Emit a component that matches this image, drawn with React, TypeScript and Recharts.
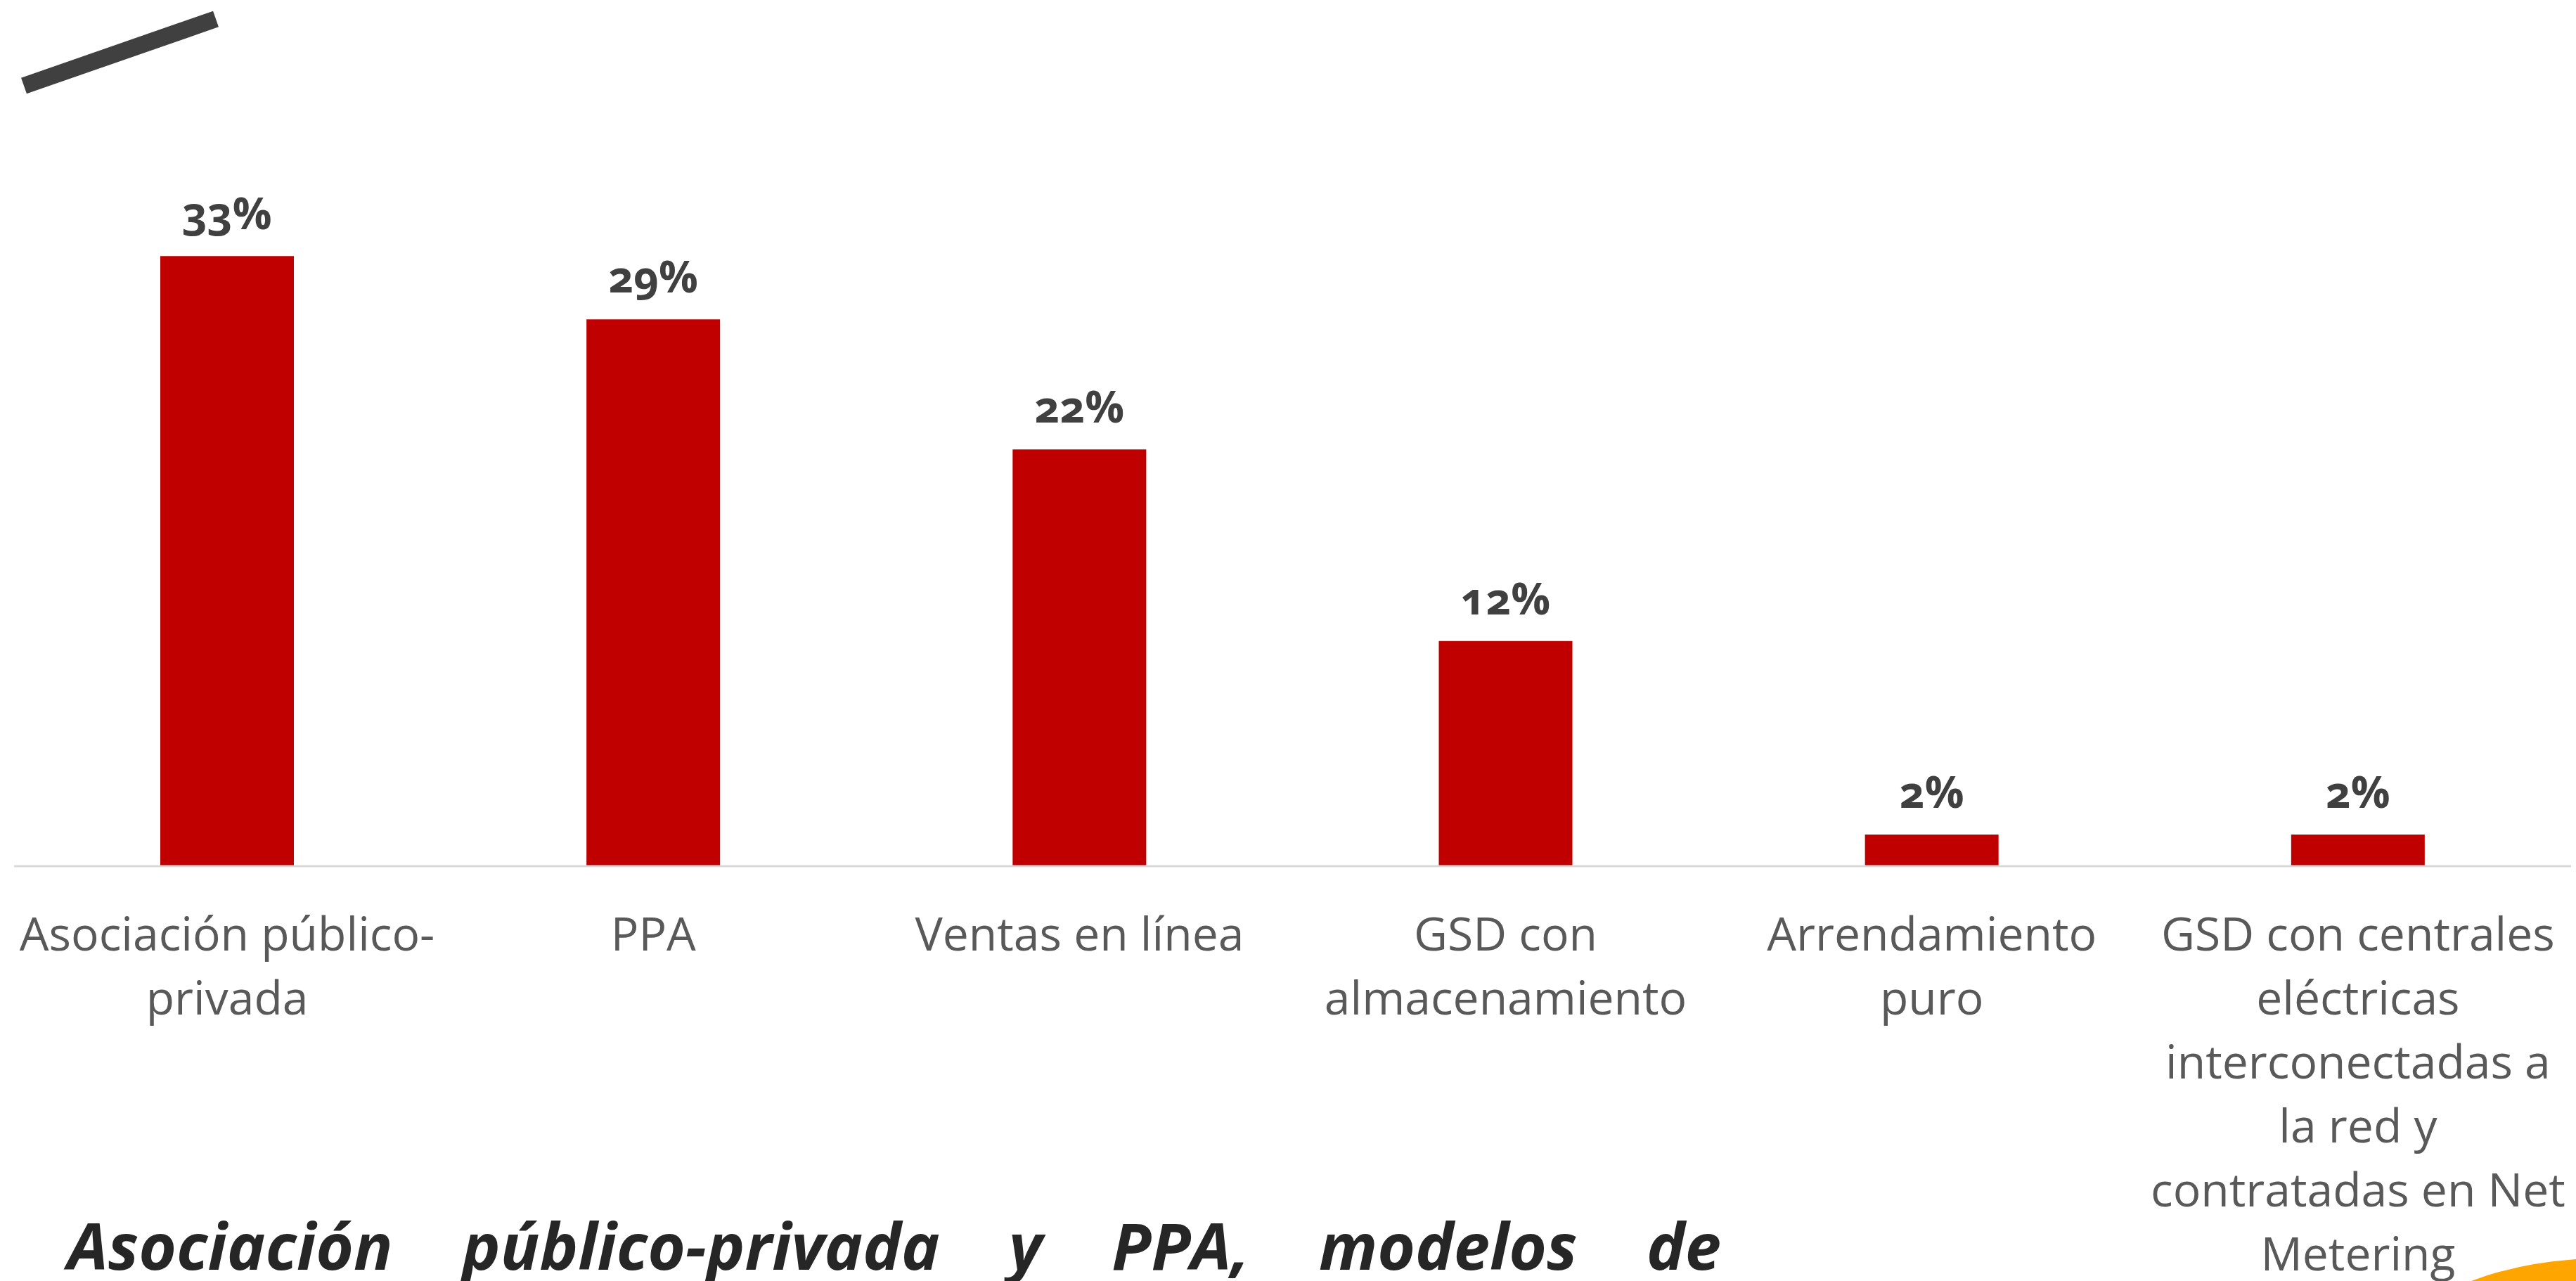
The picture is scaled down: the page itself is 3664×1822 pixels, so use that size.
import { Bar, BarChart, LabelList, XAxis, YAxis } from "recharts";

const categories = [
  "Asociación público-privada",
  "PPA",
  "Ventas en línea",
  "GSD con almacenamiento",
  "Arrendamiento puro",
  "GSD con centrales eléctricas interconectadas a la red y contratadas en Net Metering",
];

// line breaks as they appear under each bar
const tickLines = [
  ["Asociación público-", "privada"],
  ["PPA"],
  ["Ventas en línea"],
  ["GSD con", "almacenamiento"],
  ["Arrendamiento", "puro"],
  ["GSD con centrales", "eléctricas", "interconectadas a", "la red y", "contratadas en Net", "Metering"],
];

const shares = [32.8, 29.4, 22.4, 12.1, 1.7, 1.7];

const data = categories.map((name, i) => ({ name, share: shares[i], idx: i }));

const W = 3664;
const H = 1822;

function Tick(props: any) {
  const { x, y, index } = props;
  const lines = tickLines[index] || [];
  return (
    <g transform={`translate(${x},${y})`}>
      <text textAnchor="middle" fill="#595959" fontSize={66} fontFamily="'Open Sans', sans-serif">
        {lines.map((l, i) => (
          <tspan key={i} x={0} y={120 + i * 91}>
            {l}
          </tspan>
        ))}
      </text>
    </g>
  );
}

export default function App() {
  return (
    <div
      style={{
        position: "absolute",
        left: 0,
        top: 0,
        width: W,
        height: H,
        overflow: "hidden",
        background: "#fff",
      }}
    >
      <svg width={W} height={H} style={{ position: "absolute", left: 0, top: 0 }}>
        <line x1={34} y1={122} x2={307} y2={27} stroke="#404040" strokeWidth={24} />
        <path d="M3515,1822 Q3580,1797 3664,1791 L3664,1822 Z" fill="#FFA500" />
      </svg>
      <div style={{ position: "absolute", left: 0, top: 0 }}>
        <BarChart
          width={W}
          height={H}
          data={data}
          margin={{ top: 306, right: 7, bottom: 0, left: 20 }}
        >
          <XAxis
            dataKey="name"
            height={590}
            interval={0}
            tickLine={false}
            tickSize={0}
            tickMargin={0}
            axisLine={{ stroke: "#D9D9D9", strokeWidth: 3 }}
            tick={<Tick />}
          />
          <YAxis hide domain={[0, 35]} />
          <Bar dataKey="share" fill="#C00000" barSize={190} isAnimationActive={false}>
            <LabelList
              dataKey="share"
              position="top"
              offset={38}
              formatter={(v: number) => `${Math.round(v)}%`}
              style={{
                fill: "#404040",
                fontSize: 62,
                fontWeight: 700,
                fontFamily: "'Open Sans', sans-serif",
                fontVariantNumeric: "oldstyle-nums",
              }}
            />
          </Bar>
        </BarChart>
      </div>
      <div
        style={{
          position: "absolute",
          left: 96,
          top: 1706,
          width: 2352,
          fontFamily: "'Open Sans', sans-serif",
          fontWeight: 700,
          fontStyle: "italic",
          fontSize: 92,
          lineHeight: "130px",
          color: "#262626",
          textAlign: "justify",
          textAlignLast: "justify",
          whiteSpace: "nowrap",
        }}
      >
        Asociación público-privada y PPA, modelos de
      </div>
    </div>
  );
}
